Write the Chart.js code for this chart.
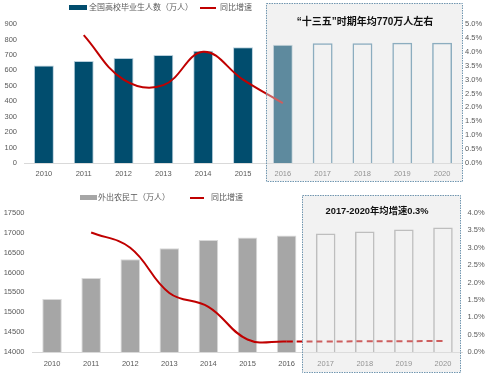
<!DOCTYPE html>
<html><head><meta charset="utf-8">
<script src="https://cdn.jsdelivr.net/npm/chart.js@4"></script>
<style>
html,body{margin:0;padding:0;background:#fff;width:490px;height:373px;overflow:hidden;font-family:"Liberation Sans","Noto Sans CJK SC",sans-serif;}
.wrap{position:absolute;left:0;width:490px;}
.lg{position:absolute;font-size:8px;color:#595959;white-space:nowrap;line-height:10px;font-family:"Noto Sans CJK SC",sans-serif;}
.sw{position:absolute;}
.note{position:absolute;font-weight:bold;color:#111;white-space:nowrap;font-size:10px;line-height:12px;font-family:"Liberation Sans","Noto Sans CJK SC",sans-serif;transform:translateX(-50%);}
</style></head>
<body>
<div class="wrap" style="top:0;height:185px;"><canvas id="c1" width="490" height="185"></canvas></div>
<div class="wrap" style="top:185px;height:188px;"><canvas id="c2" width="490" height="188"></canvas></div>

<div class="sw" style="left:69px;top:5px;width:18px;height:5px;background:#014d6e;"></div>
<div class="lg" style="left:89px;top:2px;">全国高校毕业生人数（万人）</div>
<div class="sw" style="left:200px;top:7px;width:16px;height:2px;background:#c00000;"></div>
<div class="lg" style="left:220px;top:2px;">同比增速</div>
<div class="note" style="left:365px;top:16px;">“十三五”时期年均770万人左右</div>

<div class="sw" style="left:80px;top:195px;width:17px;height:5px;background:#a6a6a6;"></div>
<div class="lg" style="left:98px;top:192px;">外出农民工（万人）</div>
<div class="sw" style="left:190px;top:197px;width:14px;height:2px;background:#c00000;"></div>
<div class="lg" style="left:211px;top:192px;">同比增速</div>
<div class="note" style="left:377px;top:205px;font-size:9.3px;">2017-2020年均增速0.3%</div>

<script>
const years = ['2010','2011','2012','2013','2014','2015','2016','2017','2018','2019','2020'];
const gradCount = [631, 660, 680, 699, 727, 749, 765, 775, 775, 778, 778];
const gradGrowth = [null, 4.6, 3.0, 2.8, 4.0, 3.0, 2.15, null, null, null, null];
const gradLeftTicks = [0, 100, 200, 300, 400, 500, 600, 700, 800, 900];
const gradRightTicks = [0, 0.5, 1, 1.5, 2, 2.5, 3, 3.5, 4, 4.5, 5];
const migrant = [15335, 15863, 16336, 16610, 16821, 16884, 16934, 16985, 17036, 17087, 17138];
const migrantGrowth = [null, 3.44, 3.0, 1.7, 1.3, 0.36, 0.3, null, null, null, null];
const migrantGrowthProj = [null, null, null, null, null, null, 0.3, 0.3, 0.31, 0.31, 0.32];
const migLeftTicks = [14000, 14500, 15000, 15500, 16000, 16500, 17000, 17500];
const migRightTicks = [0, 0.5, 1, 1.5, 2, 2.5, 3, 3.5, 4];

const tickFont = {family: 'Liberation Sans', size: 7.5};
const tickColor = '#595959';

const boxPlugin = {
  id: 'box',
  afterDatasetsDraw(chart) {
    const o = chart.options.plugins.box;
    const x = chart.scales.x, ca = chart.chartArea, ctx = chart.ctx;
    const left = (x.getPixelForValue(o.from - 1) + x.getPixelForValue(o.from)) / 2 + o.dl;
    const right = ca.right + o.dr;
    ctx.save();
    ctx.fillStyle = 'rgba(224,224,224,0.42)';
    ctx.fillRect(left, o.top, right - left, o.bottom - o.top);
    ctx.strokeStyle = '#7096b0';
    ctx.lineWidth = 1;
    ctx.setLineDash([1.5, 1]);
    ctx.strokeRect(Math.round(left) + 0.5, o.top + 0.5, Math.round(right - left), o.bottom - o.top);
    ctx.restore();
  }
};

function ticksFrom(arr, fmt) {
  return {
    afterBuildTicks: s => { s.ticks = arr.map(v => ({value: v})); },
    callback: fmt
  };
}

function yScale(pos, min, max, arr, fmt, width, pad) {
  const t = ticksFrom(arr, fmt);
  return {
    position: pos, min: min, max: max,
    grid: {display: false, drawTicks: false},
    border: {display: false},
    afterBuildTicks: t.afterBuildTicks,
    afterFit: s => { s.width = width; },
    ticks: {font: tickFont, color: tickColor, padding: pad, callback: t.callback, autoSkip: false}
  };
}

// Top chart
const topBarBg = gradCount.map((v, i) => i <= 6 ? '#014d6e' : 'rgba(255,255,255,0)');
const topBarBorder = gradCount.map((v, i) => i <= 6 ? '#b9cfdc' : '#5088a8');
const topBarBW = gradCount.map((v, i) => i <= 6 ? 1 : 1.5);

new Chart(document.getElementById('c1'), {
  data: {
    labels: years,
    datasets: [
      {type: 'line', data: gradGrowth, yAxisID: 'y1', borderColor: '#c00000', borderWidth: 2,
       pointRadius: 0, tension: 0.4, fill: false, order: 0},
      {type: 'bar', data: gradCount, yAxisID: 'y', backgroundColor: topBarBg, borderColor: topBarBorder,
       borderWidth: topBarBW, barPercentage: 0.5, categoryPercentage: 1, order: 1}
    ]
  },
  options: {
    responsive: false, animation: false, events: [],
    layout: {padding: {top: 24, left: 0, right: 0, bottom: 0}},
    plugins: {legend: {display: false}, tooltip: {enabled: false},
      box: {from: 6, dl: 3, dr: 0, top: 3, bottom: 181}},
    scales: {
      x: {grid: {display: false, drawTicks: false}, border: {display: true, color: '#d9d9d9', width: 1},
          afterFit: s => { s.height = 22; },
          ticks: {font: tickFont, color: tickColor, padding: 6, maxRotation: 0, autoSkip: false}},
      y: yScale('left', 0, 900, gradLeftTicks, v => String(v), 24, 7),
      y1: yScale('right', 0, 5, gradRightTicks, v => v.toFixed(1) + '%', 28, 3)
    }
  },
  plugins: [boxPlugin]
});

// Bottom chart
const botBarBg = migrant.map((v, i) => i <= 6 ? '#a6a6a6' : 'rgba(255,255,255,0)');
const botBarBorder = migrant.map((v, i) => i <= 6 ? '#d9d9d9' : '#a6a6a6');
const botBarBW = migrant.map((v, i) => i <= 6 ? 1 : 1.5);

new Chart(document.getElementById('c2'), {
  data: {
    labels: years,
    datasets: [
      {type: 'line', data: migrantGrowth, yAxisID: 'y1', borderColor: '#c00000', borderWidth: 2,
       pointRadius: 0, tension: 0.4, fill: false, order: 0},
      {type: 'line', data: migrantGrowthProj, yAxisID: 'y1', borderColor: '#c00000', borderWidth: 2,
       borderDash: [6, 4], pointRadius: 0, tension: 0.4, fill: false, order: 0},
      {type: 'bar', data: migrant, yAxisID: 'y', backgroundColor: botBarBg, borderColor: botBarBorder,
       borderWidth: botBarBW, barPercentage: 0.5, categoryPercentage: 1, order: 1}
    ]
  },
  options: {
    responsive: false, animation: false, events: [],
    layout: {padding: {top: 28, left: 0, right: 0, bottom: 0}},
    plugins: {legend: {display: false}, tooltip: {enabled: false},
      box: {from: 7, dl: -4, dr: -2, top: 10, bottom: 187}},
    scales: {
      x: {grid: {display: false, drawTicks: false}, border: {display: true, color: '#d9d9d9', width: 1},
          afterFit: s => { s.height = 21; },
          ticks: {font: tickFont, color: tickColor, padding: 7, maxRotation: 0, autoSkip: false}},
      y: yScale('left', 14000, 17500, migLeftTicks, v => String(v), 32.5, 8),
      y1: yScale('right', 0, 4, migRightTicks, v => v.toFixed(1) + '%', 27.5, 5)
    }
  },
  plugins: [boxPlugin]
});
</script>
</body></html>
